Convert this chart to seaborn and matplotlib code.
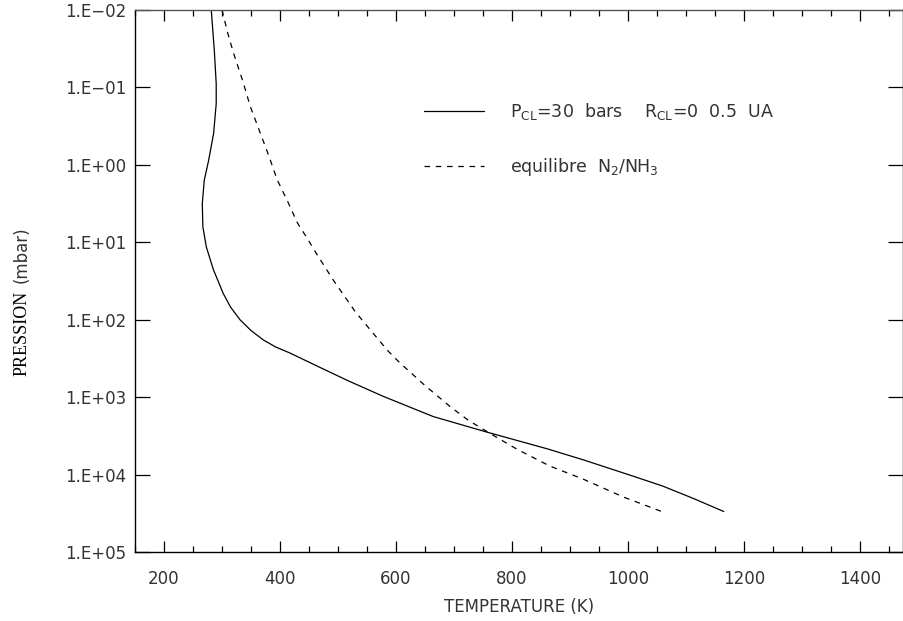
import numpy as np
import pandas as pd
import matplotlib
matplotlib.use("Agg")
import matplotlib.pyplot as plt
from matplotlib.lines import Line2D
from matplotlib.ticker import FixedLocator, MultipleLocator
import seaborn as sns

# ---- data (T in K, P in mbar) ----
temp_cloud = [281.5, 284, 286.7, 290, 290, 285.6, 277, 269.4, 266, 267,
              273, 285, 302, 315, 331, 350, 371, 392, 417, 470, 518, 578,
              664, 756, 862, 923, 1009, 1060, 1113, 1165]
pres_cloud = [0.01, 0.0178, 0.0331, 0.0891, 0.162, 0.389, 0.871, 1.58,
              3.16, 6.31, 11.5, 22.4, 45.7, 69.2, 100, 138, 182, 224, 269,
              417, 617, 977, 1780, 2820, 4680, 6460, 10500, 14100, 20400,
              30000]

temp_equil = [300, 310, 320, 335, 349, 366, 381, 395, 413, 430, 447, 464,
              492, 530, 560, 587, 607, 650, 693, 725, 760, 808, 865, 923,
              992, 1058]
pres_equil = [0.01, 0.02, 0.0363, 0.0794, 0.178, 0.389, 0.776, 1.55, 2.95,
              5.62, 8.91, 14.5, 30.9, 79.4, 148, 257, 363, 708, 1320, 2000,
              2880, 4680, 7760, 11480, 19500, 30000]

ytick_vals = [1e-2, 1e-1, 1e0, 1e1, 1e2, 1e3, 1e4, 1e5]
ytick_labels = ["1.E\u221202", "1.E\u221201", "1.E+00", "1.E+01",
                "1.E+02", "1.E+03", "1.E+04", "1.E+05"]
xtick_vals = [200, 400, 600, 800, 1000, 1200, 1400]

label_cloud = r"P$_{\rm CL}$=30  bars    R$_{\rm CL}$=0  0.5  UA"
label_equil = r"equilibre  N$_2$/NH$_3$"

df_cloud = pd.DataFrame({"T": temp_cloud, "P": pres_cloud})
df_equil = pd.DataFrame({"T": temp_equil, "P": pres_equil})

# ---- style ----
sns.set_theme(style="ticks")
plt.rcParams["font.family"] = ["DejaVu Sans"]
plt.rcParams["mathtext.fontset"] = "dejavusans"

fig = plt.figure(figsize=(9.04, 6.21), dpi=100)
ax = fig.add_axes([135 / 904, 1 - 552 / 621, 768 / 904, 542 / 621])

dash = (0, (4.5, 4.5))
sns.lineplot(data=df_cloud, x="T", y="P", sort=False, estimator=None,
             color="black", linewidth=0.9, ax=ax)
sns.lineplot(data=df_equil, x="T", y="P", sort=False, estimator=None,
             color="black", linewidth=0.9, linestyle=dash, ax=ax)

ax.set_yscale("log")
ax.set_ylim(1e5, 1e-2)
ax.set_xlim(150, 1474)

ax.set_yticks(ytick_vals)
ax.set_yticklabels(ytick_labels)
ax.yaxis.set_minor_locator(FixedLocator([]))
ax.set_xticks(xtick_vals)
ax.xaxis.set_minor_locator(MultipleLocator(50))

ax.tick_params(axis="both", which="both", direction="in", top=True, right=True,
               colors="black", labelcolor="#333333", width=0.9)
ax.tick_params(axis="y", which="major", length=11, pad=6, labelsize=12)
ax.tick_params(axis="x", which="major", length=8, pad=13, labelsize=12)
ax.tick_params(axis="x", which="minor", length=4)

for side in ["left", "bottom", "top", "right"]:
    ax.spines[side].set_linewidth(1.0)
    ax.spines[side].set_color("black")
ax.spines["top"].set_color("#555555")

ax.set_xlabel("TEMPERATURE (K)", fontsize=12, color="#333333", labelpad=7)
ax.set_ylabel("")

# y label: serif word + sans unit, as in the original
fig.text(22 / 904, 1 - 376 / 621, "PRESSION", rotation=90, ha="center",
         va="bottom", family="Liberation Serif", fontsize=13, color="black")
fig.text(22 / 904, 1 - 283 / 621, "(mbar)", rotation=90, ha="center",
         va="bottom", fontsize=12, color="#333333")

handles = [Line2D([], [], color="black", linewidth=0.9),
           Line2D([], [], color="black", linewidth=0.9, linestyle=dash)]
leg = ax.legend(handles, [label_cloud, label_equil], loc="upper left",
                bbox_to_anchor=((408 - 135) / 768, (552 - 85) / 542),
                frameon=False, fontsize=12.5, handlelength=3.5,
                handletextpad=1.5, labelspacing=2.0)
for t in leg.get_texts():
    t.set_color("#333333")

fig.savefig("out.png", dpi=100)
